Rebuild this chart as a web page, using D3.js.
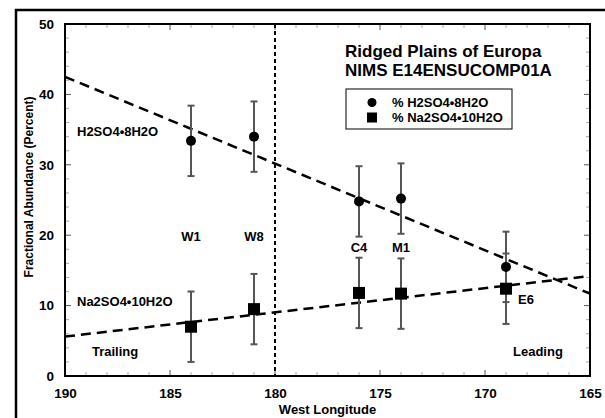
<!DOCTYPE html>
<html>
<head>
<meta charset="utf-8">
<script src="https://cdn.jsdelivr.net/npm/d3@7"></script>
<style>
  body { margin: 0; background: #fff; }
  svg text { font-family: "Liberation Sans", Arial, sans-serif; font-weight: bold; fill: #000; }
</style>
</head>
<body>
<div id="chart"></div>
<script>
// site data (west longitude, percent abundance)
var longitudes = [184, 181, 176, 174, 169];
var siteNames = ["W1", "W8", "C4", "M1", "E6"];
var h2so4 = [33.4, 34.0, 24.8, 25.2, 15.5];
var na2so4 = [7.0, 9.5, 11.8, 11.7, 12.4];
var h2so4Err = [5, 5, 5, 5, 5];
var na2so4Err = [5, 5, 5, 5, 5];

// fitted trend lines, end points
var fitLon = [190, 165];
var h2so4Fit = [42.5, 11.7];
var na2so4Fit = [5.6, 14.2];

var xTicks = [190, 185, 180, 175, 170, 165];
var yTicks = [0, 10, 20, 30, 40, 50];

var W = 605, H = 418;
var pL = 65, pR = 590, pT = 24, pB = 376;

var svg = d3.select('#chart').append('svg')
  .attr('width', W)
  .attr('height', H);

var x = d3.scaleLinear().domain([190, 165]).range([pL, pR]);
var y = d3.scaleLinear().domain([0, 50]).range([pB, pT]);

// outer page frame
svg.append('path')
  .attr('d', 'M16,' + H + ' L16,10 L' + W + ',10')
  .attr('fill', 'none')
  .attr('stroke', '#000')
  .attr('stroke-width', 2.5);

// minor / major ticks, on all four sides, pointing inward
var g = svg.append('g');
d3.range(165, 191, 1).forEach(function (v) {
  var major = v % 5 === 0;
  var len = major ? 6 : 4;
  [[pB, -len], [pT, len]].forEach(function (s) {
    g.append('line')
      .attr('x1', x(v)).attr('x2', x(v))
      .attr('y1', s[0]).attr('y2', s[0] + s[1])
      .attr('stroke', major ? '#555' : '#aaa').attr('stroke-width', 1);
  });
});
d3.range(0, 51, 2).forEach(function (v) {
  var major = v % 10 === 0;
  var len = major ? 6 : 4;
  [[pL, len], [pR, -len]].forEach(function (s) {
    g.append('line')
      .attr('y1', y(v)).attr('y2', y(v))
      .attr('x1', s[0]).attr('x2', s[0] + s[1])
      .attr('stroke', major ? '#555' : '#aaa').attr('stroke-width', 1);
  });
});

// axes labels via d3 axes (no domain, no tick lines)
var xAxis = svg.append('g')
  .attr('transform', 'translate(0,' + pB + ')')
  .call(d3.axisBottom(x).tickValues(xTicks).tickSize(0).tickPadding(12));
var yAxis = svg.append('g')
  .attr('transform', 'translate(' + pL + ',0)')
  .call(d3.axisLeft(y).tickValues(yTicks).tickSize(0).tickPadding(11));
[xAxis, yAxis].forEach(function (a) {
  a.select('.domain').remove();
  a.selectAll('text')
    .style('font-family', '"Liberation Sans", Arial, sans-serif')
    .style('font-weight', 'bold')
    .style('font-size', '13.5px')
    .attr('fill', '#000');
});

// plot frame
svg.append('rect')
  .attr('x', pL).attr('y', pT)
  .attr('width', pR - pL).attr('height', pB - pT)
  .attr('fill', 'none').attr('stroke', '#000').attr('stroke-width', 2);

// 180 meridian
svg.append('line')
  .attr('x1', x(180)).attr('x2', x(180))
  .attr('y1', pT).attr('y2', pB)
  .attr('stroke', '#000').attr('stroke-width', 2)
  .attr('stroke-dasharray', '4,3');

// trend lines
var line = d3.line()
  .x(function (d) { return x(d[0]); })
  .y(function (d) { return y(d[1]); });
[h2so4Fit, na2so4Fit].forEach(function (fit) {
  svg.append('path')
    .datum(d3.zip(fitLon, fit))
    .attr('d', line)
    .attr('fill', 'none')
    .attr('stroke', '#000')
    .attr('stroke-width', 2.5)
    .attr('stroke-dasharray', '10,6');
});

// error bars
function errorBars(vals, errs) {
  var data = d3.zip(longitudes, vals, errs);
  var eb = svg.append('g').attr('stroke', '#555').attr('stroke-width', 2);
  data.forEach(function (d) {
    eb.append('line')
      .attr('x1', x(d[0])).attr('x2', x(d[0]))
      .attr('y1', y(d[1] - d[2])).attr('y2', y(d[1] + d[2]));
    [d[1] - d[2], d[1] + d[2]].forEach(function (v) {
      eb.append('line')
        .attr('x1', x(d[0]) - 3.5).attr('x2', x(d[0]) + 3.5)
        .attr('y1', y(v)).attr('y2', y(v));
    });
  });
}
errorBars(h2so4, h2so4Err);
errorBars(na2so4, na2so4Err);

// markers
svg.append('g').selectAll('circle')
  .data(d3.zip(longitudes, h2so4))
  .enter().append('circle')
  .attr('cx', function (d) { return x(d[0]); })
  .attr('cy', function (d) { return y(d[1]); })
  .attr('r', 5)
  .attr('fill', '#000');
svg.append('g').selectAll('rect')
  .data(d3.zip(longitudes, na2so4))
  .enter().append('rect')
  .attr('x', function (d) { return x(d[0]) - 6; })
  .attr('y', function (d) { return y(d[1]) - 6; })
  .attr('width', 12).attr('height', 12)
  .attr('fill', '#000');

// site labels
var siteLabelPos = { W1: [0, 236], W8: [0, 236], C4: [0, 247], M1: [0, 247], E6: [20, 299] };
svg.append('g').selectAll('text')
  .data(d3.zip(longitudes, siteNames))
  .enter().append('text')
  .attr('x', function (d) { return x(d[0]) + siteLabelPos[d[1]][0]; })
  .attr('y', function (d) { return siteLabelPos[d[1]][1]; })
  .attr('dy', '0.35em')
  .attr('text-anchor', 'middle')
  .style('font-size', '13px')
  .text(function (d) { return d[1]; });

// annotations
function note(t, px, py, size) {
  svg.append('text').attr('x', px).attr('y', py)
    .style('font-size', (size || 13) + 'px').text(t);
}
note('H2SO4\u20228H2O', 77, 136);
note('Na2SO4\u202210H2O', 77, 306);
note('Trailing', 92, 356);
note('Leading', 513, 356);
note('Ridged Plains of Europa', 345, 57, 17);
note('NIMS E14ENSUCOMP01A', 345, 75.5, 17);

// legend
svg.append('rect')
  .attr('x', 346).attr('y', 89).attr('width', 166).attr('height', 40)
  .attr('fill', '#fff').attr('stroke', '#000').attr('stroke-width', 1);
svg.append('circle').attr('cx', 372).attr('cy', 102.5).attr('r', 4.5).attr('fill', '#000');
svg.append('rect').attr('x', 367).attr('y', 112.5).attr('width', 10).attr('height', 10).attr('fill', '#000');
note('% H2SO4\u20228H2O', 392, 107, 13);
note('% Na2SO4\u202210H2O', 392, 122, 13);

// axis titles
svg.append('text')
  .attr('x', (pL + pR) / 2).attr('y', 414)
  .attr('text-anchor', 'middle')
  .style('font-size', '13px')
  .text('West Longitude');
svg.append('text')
  .attr('transform', 'translate(33,187) rotate(-90)')
  .attr('text-anchor', 'middle')
  .style('font-size', '12px')
  .text('Fractional Abundance (Percent)');
</script>
</body>
</html>
